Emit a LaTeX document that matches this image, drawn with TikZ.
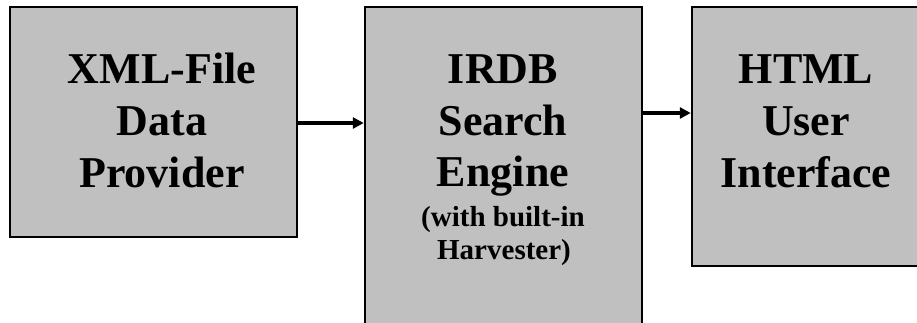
\documentclass[tikz,border=0pt]{standalone}
\usepackage{fontspec}
\setmainfont{Liberation Serif}
\usetikzlibrary{arrows.meta,calc}
\tikzset{
  blockbox/.style={draw=black, line width=1.5pt, fill={rgb,255:red,192;green,192;blue,192}, rectangle, inner sep=0pt},
  bigtxt/.style={anchor=base, inner sep=0pt, font=\fontsize{44}{52}\selectfont\bfseries},
  smalltxt/.style={anchor=base, inner sep=0pt, font=\fontsize{29}{33}\selectfont\bfseries},
  flow/.style={line width=3.5pt, -{Triangle[length=11pt,width=11pt]}, shorten >=0.5pt}
}
\begin{document}
\begin{tikzpicture}[x=1pt,y=-1pt]
\clip (0,0) rectangle (917,322);
\fill[white] (0,0) rectangle (917,322);
% boxes
\node[blockbox, minimum width=287pt, minimum height=230pt] (prov) at (153.5,122) {};
\node[blockbox, minimum width=277pt, minimum height=330pt] (eng) at (503.5,172) {};
\node[blockbox, minimum width=230pt, minimum height=259pt] (ui) at (807,136.5) {};
% texts
\node[bigtxt] (p1) at (162,83) {XML-File};
\node[bigtxt] (p2) at (162,135) {Data};
\node[bigtxt] (p3) at (162,187) {Provider};
\node[bigtxt] (e1) at (503,83) {IRDB};
\node[bigtxt] (e2) at (503,135) {Search};
\node[bigtxt] (e3) at (503,186) {Engine};
\node[smalltxt] (e4) at (503,226) {(with built-in};
\node[smalltxt] (e5) at (504,259) {Harvester)};
\node[bigtxt] (u1) at (806,83) {HTML};
\node[bigtxt] (u2) at (806,135) {User};
\node[bigtxt] (u3) at (806,187) {Interface};
% connectors
\coordinate (a1s) at (prov.east |- 0,123);
\coordinate (a1e) at (eng.west |- 0,123);
\coordinate (a2s) at (eng.east |- 0,113);
\coordinate (a2e) at (ui.west |- 0,113);
\draw[flow] (a1s) -- (a1e);
\draw[flow] (a2s) -- (a2e);
\end{tikzpicture}
\end{document}
